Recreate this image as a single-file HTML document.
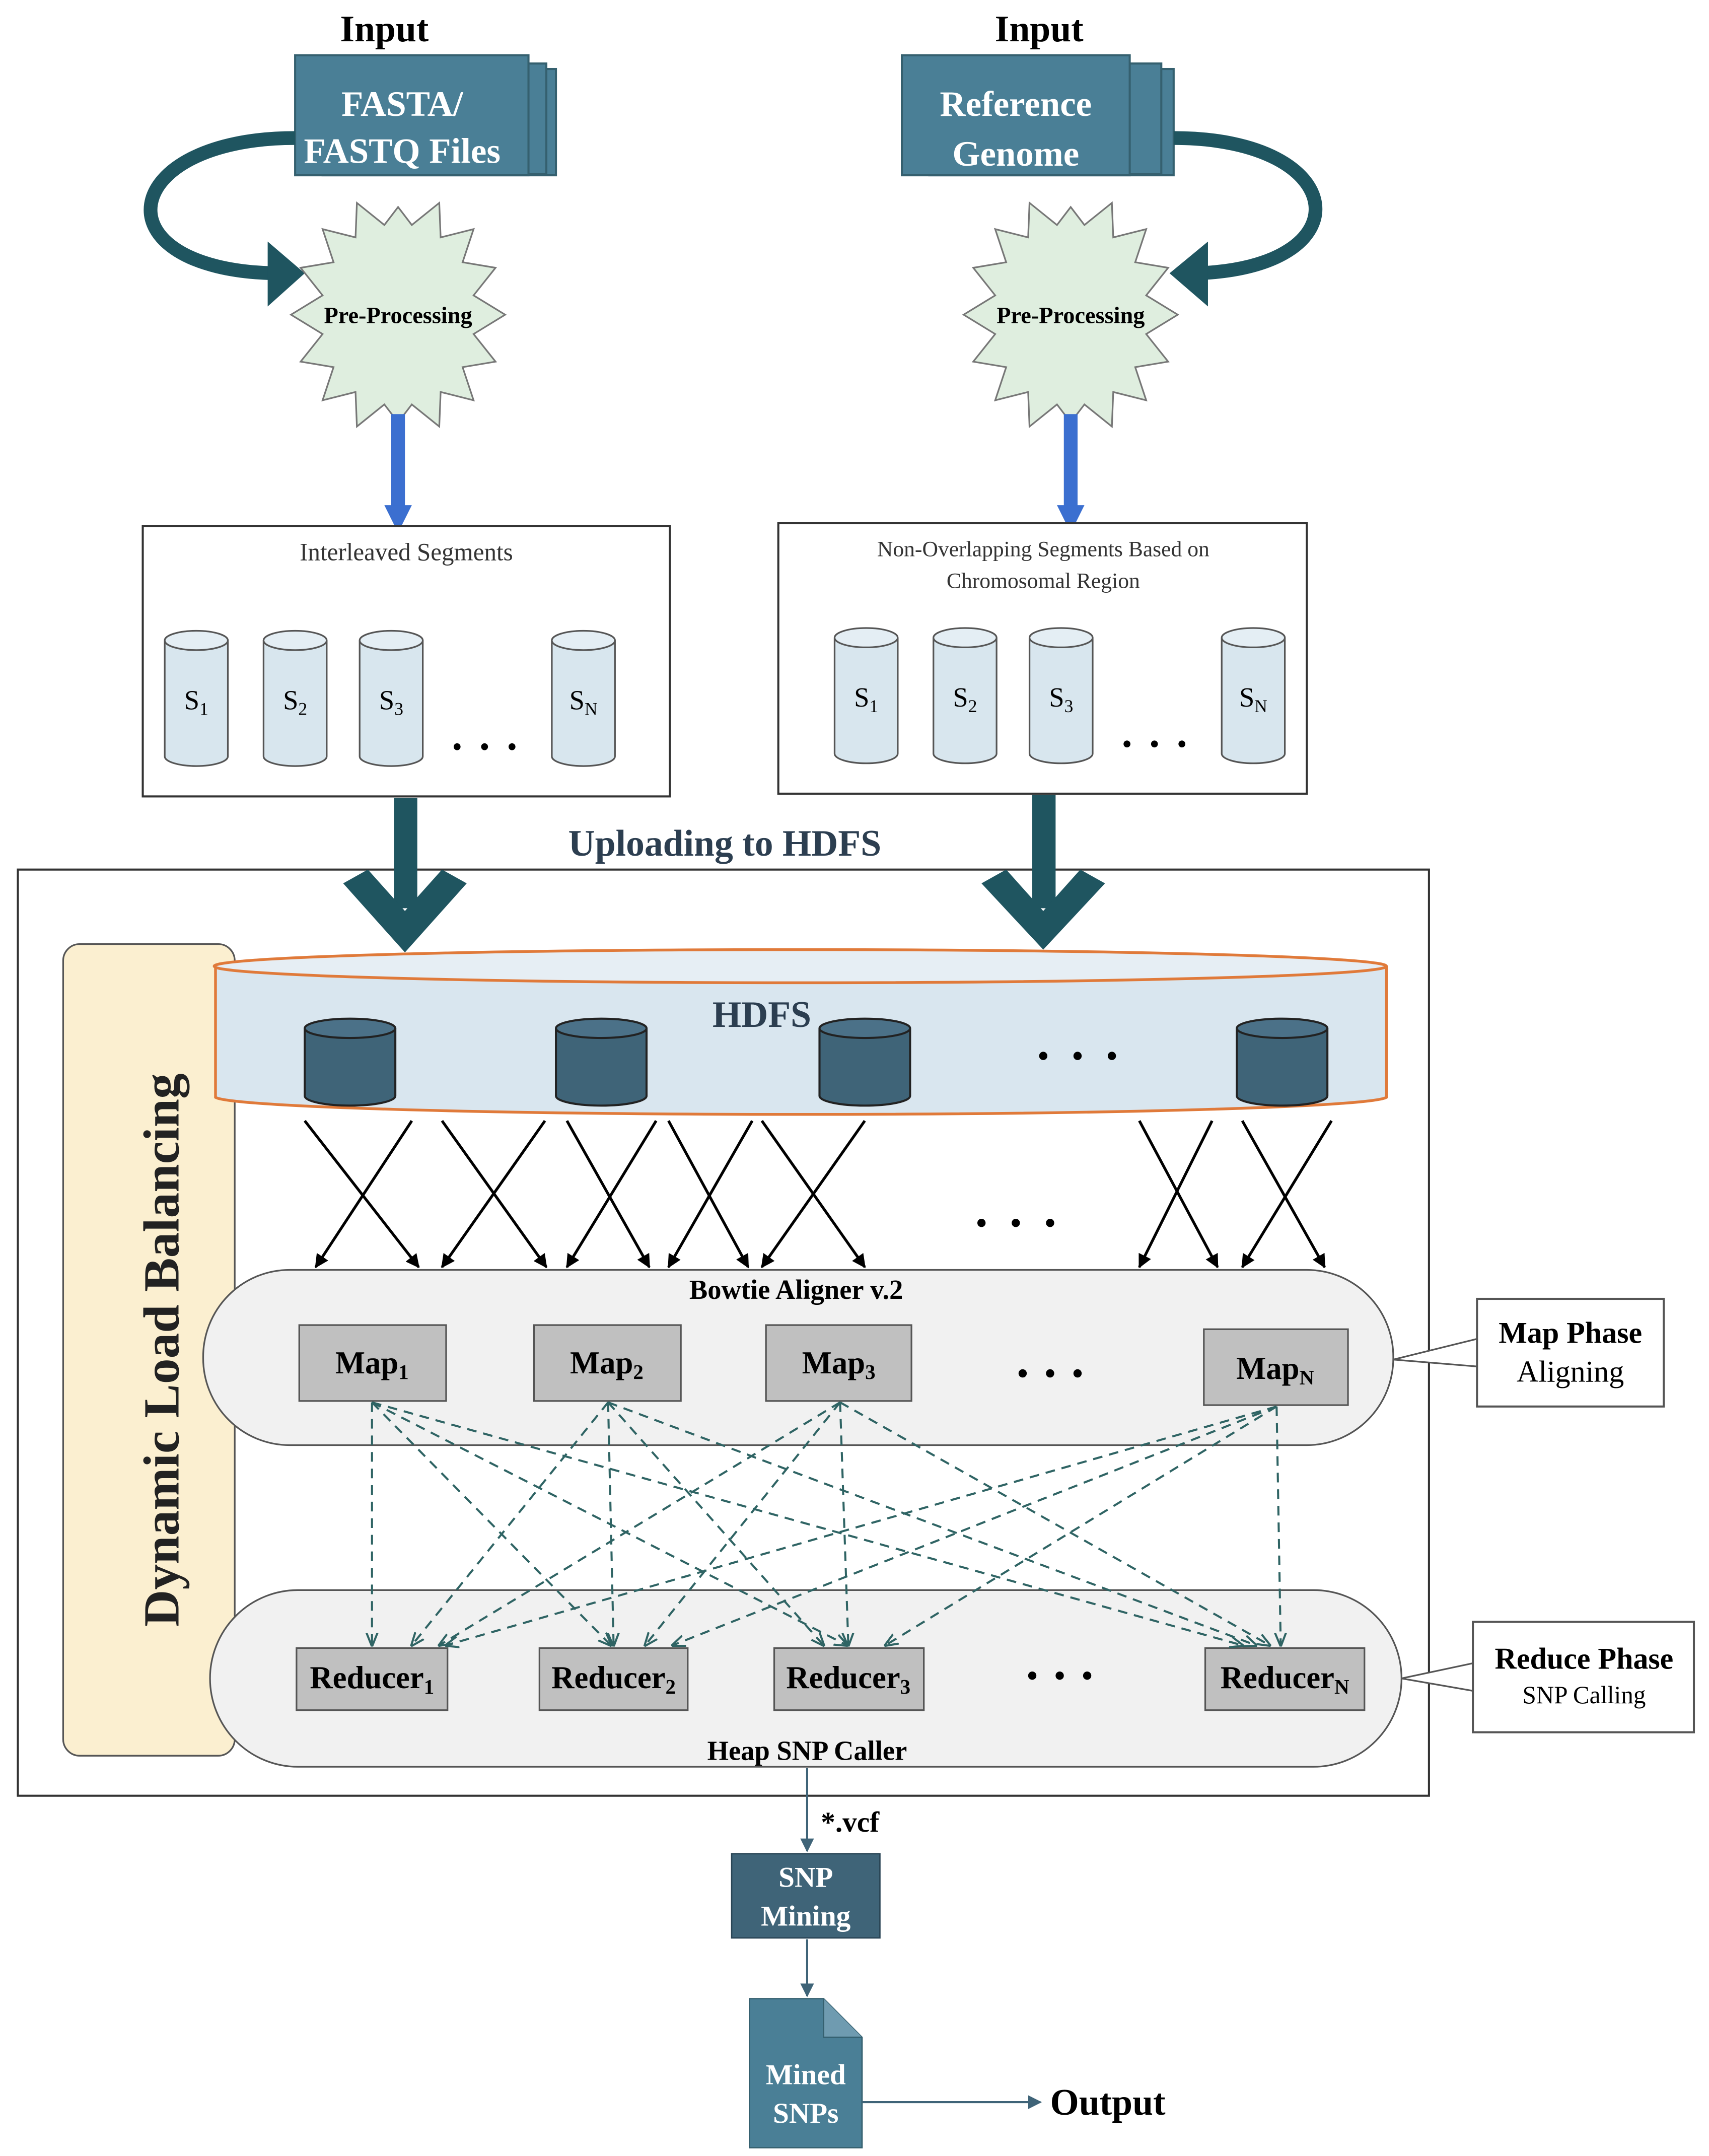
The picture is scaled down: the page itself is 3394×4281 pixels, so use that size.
<!DOCTYPE html>
<html><head><meta charset="utf-8"><style>html,body{margin:0;padding:0;background:#fff}svg{display:block}</style></head><body>
<svg width="3394" height="4281" viewBox="0 0 1245 1562" preserveAspectRatio="none" xmlns="http://www.w3.org/2000/svg" font-family="Liberation Serif, serif">
<defs>
<marker id="ab" markerWidth="10" markerHeight="10" refX="9" refY="5" orient="auto" markerUnits="userSpaceOnUse"><path d="M0,0 L10,5 L0,10 Z" fill="#000"/></marker>
<marker id="at" markerWidth="10" markerHeight="10" refX="9" refY="5" orient="auto" markerUnits="userSpaceOnUse"><path d="M0,1 L10,5 L0,9" fill="none" stroke="#2f6464" stroke-width="1.5"/></marker>
<marker id="as" markerWidth="10" markerHeight="10" refX="9" refY="5" orient="auto" markerUnits="userSpaceOnUse"><path d="M0,0 L10,5 L0,10 Z" fill="#3f6478"/></marker>
<marker id="ablue" markerWidth="20" markerHeight="20" refX="10" refY="10" orient="auto" markerUnits="userSpaceOnUse"><path d="M0,0 L20,10 L0,20 Z" fill="#3b6fd0"/></marker>
<g id="cyl"><path d="M0,7 L0,91 A23,7 0 0 0 46,91 L46,7" fill="#d8e6ee" stroke="#555" stroke-width="1.2"/><ellipse cx="23" cy="7" rx="23" ry="7" fill="#e4eef4" stroke="#555" stroke-width="1.2"/></g>
<g id="dc"><path d="M0,7 L0,56 A33,7 0 0 0 66,56 L66,7" fill="#3f6478" stroke="#222" stroke-width="1.5"/><ellipse cx="33" cy="7" rx="33" ry="7" fill="#4b7188" stroke="#222" stroke-width="1.5"/></g>
</defs>
<text x="280" y="30" font-size="27" font-weight="bold" text-anchor="middle">Input</text>
<text x="757" y="30" font-size="27" font-weight="bold" text-anchor="middle">Input</text>
<g stroke="#35606f" stroke-width="1.5">
<rect x="235" y="50" width="170" height="77" fill="#4a7f96"/>
<rect x="228" y="46" width="170" height="80" fill="#4a7f96"/>
<rect x="215" y="40" width="170" height="87" fill="#4a7f96"/>
<rect x="677" y="50" width="178" height="77" fill="#4a7f96"/>
<rect x="668" y="46" width="178" height="80" fill="#4a7f96"/>
<rect x="657" y="40" width="166" height="87" fill="#4a7f96"/>
</g>
<g fill="#fff" font-weight="bold" font-size="26" text-anchor="middle">
<text x="293" y="84">FASTA/</text><text x="293" y="118">FASTQ Files</text>
<text x="740" y="84">Reference</text><text x="740" y="120">Genome</text>
</g>
<path d="M215,100 C85,100 70,195 200,198" fill="none" stroke="#1f5560" stroke-width="10"/>
<path d="M195,175 L222,198 L195,222 Z" fill="#1f5560"/>
<path d="M855,100 C985,100 995,195 870,198" fill="none" stroke="#1f5560" stroke-width="10"/>
<path d="M880,175 L852,198 L880,222 Z" fill="#1f5560"/>
<g id="star"><polygon fill="#dfeedf" stroke="#777" stroke-width="1.2" points="368,228 345,242 361,262 337,266 345,290 321,284 320,309 300,293 290,306 280,293 260,309 259,284 235,290 243,266 219,262 235,242 212,228 235,214 219,194 243,190 235,166 259,172 260,147 280,163 290,150 300,163 320,147 321,172 345,166 337,190 361,194 345,214"/></g>
<use href="#star" transform="translate(490,0)"/>
<g font-size="17" font-weight="bold" text-anchor="middle"><text x="290" y="234">Pre-Processing</text><text x="780" y="234">Pre-Processing</text></g>
<line x1="290" y1="300" x2="290" y2="376" stroke="#3b6fd0" stroke-width="10" marker-end="url(#ablue)"/>
<line x1="780" y1="300" x2="780" y2="376" stroke="#3b6fd0" stroke-width="10" marker-end="url(#ablue)"/>
<rect x="104" y="381" width="384" height="196" fill="#fff" stroke="#333" stroke-width="1.5"/>
<rect x="567" y="379" width="385" height="196" fill="#fff" stroke="#333" stroke-width="1.5"/>
<text x="296" y="406" font-size="18" text-anchor="middle" fill="#333">Interleaved Segments</text>
<text x="760" y="403" font-size="16" text-anchor="middle" fill="#333">Non-Overlapping Segments Based on</text>
<text x="760" y="426" font-size="16" text-anchor="middle" fill="#333">Chromosomal Region</text>
<use href="#cyl" transform="translate(120,457)"/><use href="#cyl" transform="translate(192,457)"/><use href="#cyl" transform="translate(262,457)"/><use href="#cyl" transform="translate(402,457)"/>
<use href="#cyl" transform="translate(608,455)"/><use href="#cyl" transform="translate(680,455)"/><use href="#cyl" transform="translate(750,455)"/><use href="#cyl" transform="translate(890,455)"/>
<g font-size="20" text-anchor="middle">
<text x="143" y="514">S<tspan font-size="13" dy="4">1</tspan></text><text x="215" y="514">S<tspan font-size="13" dy="4">2</tspan></text><text x="285" y="514">S<tspan font-size="13" dy="4">3</tspan></text><text x="425" y="514">S<tspan font-size="13" dy="4">N</tspan></text>
<text x="631" y="512">S<tspan font-size="13" dy="4">1</tspan></text><text x="703" y="512">S<tspan font-size="13" dy="4">2</tspan></text><text x="773" y="512">S<tspan font-size="13" dy="4">3</tspan></text><text x="913" y="512">S<tspan font-size="13" dy="4">N</tspan></text>
</g>
<g fill="#000"><circle cx="333" cy="541" r="2.5"/><circle cx="353" cy="541" r="2.5"/><circle cx="373" cy="541" r="2.5"/>
<circle cx="821" cy="539" r="2.5"/><circle cx="841" cy="539" r="2.5"/><circle cx="861" cy="539" r="2.5"/></g>
<text x="528" y="620" font-size="27" font-weight="bold" text-anchor="middle" fill="#2c3e50">Uploading to HDFS</text>
<rect x="13" y="630" width="1028" height="671" fill="none" stroke="#333" stroke-width="1.5"/>
<rect x="46" y="684" width="125" height="588" rx="12" fill="#fbefd0" stroke="#555" stroke-width="1.2"/>
<text transform="translate(130,978) rotate(-90)" font-size="37" font-weight="bold" text-anchor="middle" fill="#222">Dynamic Load Balancing</text>
<path d="M157,700 L157,795 A427,13 0 0 0 1010,795 L1010,700" fill="#d9e6ef" stroke="#e07a3a" stroke-width="2"/>
<ellipse cx="583" cy="700" rx="427" ry="12" fill="#e6eef4" stroke="#e07a3a" stroke-width="2"/>
<text x="555" y="744" font-size="27" font-weight="bold" text-anchor="middle" fill="#2c3e50">HDFS</text>
<use href="#dc" transform="translate(222,738)"/><use href="#dc" transform="translate(405,738)"/><use href="#dc" transform="translate(597,738)"/><use href="#dc" transform="translate(901,738)"/>
<g fill="#000"><circle cx="760" cy="765" r="3"/><circle cx="785" cy="765" r="3"/><circle cx="810" cy="765" r="3"/>
<circle cx="715" cy="886" r="3"/><circle cx="740" cy="886" r="3"/><circle cx="765" cy="886" r="3"/></g>
<g fill="#1f5560">
<rect x="287" y="578" width="17" height="80"/><path d="M250,640 L295,690 L340,640 L322,630 L295,660 L268,630 Z"/>
<rect x="752" y="576" width="17" height="82"/><path d="M715,640 L760,688 L805,640 L787,630 L760,660 L733,630 Z"/>
</g>
<g stroke="#000" stroke-width="2" marker-end="url(#ab)">
<line x1="222" y1="812" x2="305" y2="918"/><line x1="300" y1="812" x2="230" y2="918"/>
<line x1="322" y1="812" x2="398" y2="918"/><line x1="397" y1="812" x2="322" y2="918"/>
<line x1="413" y1="812" x2="473" y2="918"/><line x1="478" y1="812" x2="413" y2="918"/>
<line x1="487" y1="812" x2="545" y2="918"/><line x1="548" y1="812" x2="487" y2="918"/>
<line x1="555" y1="812" x2="630" y2="918"/><line x1="630" y1="812" x2="555" y2="918"/>
<line x1="830" y1="812" x2="887" y2="918"/><line x1="883" y1="812" x2="830" y2="918"/>
<line x1="905" y1="812" x2="965" y2="918"/><line x1="970" y1="812" x2="905" y2="918"/>
</g>
<rect x="148" y="920" width="867" height="127" rx="63" fill="#f1f1f1" stroke="#555" stroke-width="1.2"/>
<text x="580" y="941" font-size="20" font-weight="bold" text-anchor="middle">Bowtie Aligner v.2</text>
<g fill="#c0c0c0" stroke="#555" stroke-width="1.2">
<rect x="218" y="960" width="107" height="55"/><rect x="389" y="960" width="107" height="55"/><rect x="558" y="960" width="106" height="55"/><rect x="877" y="963" width="105" height="55"/>
</g>
<g font-size="23" font-weight="bold" text-anchor="middle">
<text x="271" y="995">Map<tspan font-size="15" dy="4">1</tspan></text><text x="442" y="995">Map<tspan font-size="15" dy="4">2</tspan></text><text x="611" y="995">Map<tspan font-size="15" dy="4">3</tspan></text><text x="929" y="999">Map<tspan font-size="15" dy="4">N</tspan></text>
</g>
<rect x="153" y="1152" width="868" height="128" rx="64" fill="#f1f1f1" stroke="#555" stroke-width="1.2"/>
<text x="588" y="1275" font-size="20" font-weight="bold" text-anchor="middle">Heap SNP Caller</text>
<g fill="#c0c0c0" stroke="#555" stroke-width="1.2">
<rect x="216" y="1194" width="110" height="45"/><rect x="393" y="1194" width="108" height="45"/><rect x="564" y="1194" width="109" height="45"/><rect x="878" y="1194" width="116" height="45"/>
</g>
<g font-size="23" font-weight="bold" text-anchor="middle">
<text x="271" y="1223">Reducer<tspan font-size="15" dy="4">1</tspan></text><text x="447" y="1223">Reducer<tspan font-size="15" dy="4">2</tspan></text><text x="618" y="1223">Reducer<tspan font-size="15" dy="4">3</tspan></text><text x="936" y="1223">Reducer<tspan font-size="15" dy="4">N</tspan></text>
</g>
<g fill="#000"><circle cx="745" cy="995" r="3"/><circle cx="765" cy="995" r="3"/><circle cx="785" cy="995" r="3"/>
<circle cx="752" cy="1214" r="3"/><circle cx="772" cy="1214" r="3"/><circle cx="792" cy="1214" r="3"/></g>
<g stroke="#2f6464" stroke-width="1.5" stroke-dasharray="7,5" fill="none" marker-end="url(#at)">
<line x1="271" y1="1016" x2="271" y2="1192"/><line x1="271" y1="1016" x2="445" y2="1192"/><line x1="271" y1="1016" x2="617" y2="1192"/><line x1="271" y1="1016" x2="905" y2="1192"/>
<line x1="443" y1="1016" x2="300" y2="1192"/><line x1="443" y1="1016" x2="447" y2="1192"/><line x1="443" y1="1016" x2="600" y2="1192"/><line x1="443" y1="1016" x2="915" y2="1192"/>
<line x1="612" y1="1016" x2="320" y2="1192"/><line x1="612" y1="1016" x2="470" y2="1192"/><line x1="612" y1="1016" x2="618" y2="1192"/><line x1="612" y1="1016" x2="925" y2="1192"/>
<line x1="930" y1="1019" x2="325" y2="1192"/><line x1="930" y1="1019" x2="490" y2="1192"/><line x1="930" y1="1019" x2="645" y2="1192"/><line x1="930" y1="1019" x2="933" y2="1192"/>
</g>
<path d="M1015,985 L1076,970 L1076,990 Z" fill="#fff" stroke="#555" stroke-width="1.2"/>
<rect x="1076" y="941" width="136" height="78" fill="#fff" stroke="#555" stroke-width="1.5"/>
<text x="1144" y="973" font-size="22" font-weight="bold" text-anchor="middle">Map Phase</text>
<text x="1144" y="1001" font-size="22" text-anchor="middle">Aligning</text>
<path d="M1021,1216 L1073,1205 L1073,1225 Z" fill="#fff" stroke="#555" stroke-width="1.2"/>
<rect x="1073" y="1175" width="161" height="80" fill="#fff" stroke="#555" stroke-width="1.5"/>
<text x="1154" y="1209" font-size="22" font-weight="bold" text-anchor="middle">Reduce Phase</text>
<text x="1154" y="1234" font-size="18" text-anchor="middle">SNP Calling</text>
<line x1="588" y1="1281" x2="588" y2="1341" stroke="#3f6478" stroke-width="1.5" marker-end="url(#as)"/>
<text x="598" y="1327" font-size="21" font-weight="bold">*.vcf</text>
<rect x="533" y="1343" width="108" height="61" fill="#3f6478" stroke="#2a4555"/>
<text x="587" y="1367" font-size="21" font-weight="bold" fill="#fff" text-anchor="middle">SNP</text>
<text x="587" y="1395" font-size="21" font-weight="bold" fill="#fff" text-anchor="middle">Mining</text>
<line x1="588" y1="1405" x2="588" y2="1446" stroke="#3f6478" stroke-width="1.5" marker-end="url(#as)"/>
<path d="M546,1448 L600,1448 L628,1476 L628,1556 L546,1556 Z" fill="#4a7f96" stroke="#35606f"/>
<path d="M600,1448 L600,1476 L628,1476" fill="#6f9bb0" stroke="#35606f"/>
<text x="587" y="1510" font-size="21" font-weight="bold" fill="#fff" text-anchor="middle">Mined</text>
<text x="587" y="1538" font-size="21" font-weight="bold" fill="#fff" text-anchor="middle">SNPs</text>
<line x1="628" y1="1523" x2="758" y2="1523" stroke="#3f6478" stroke-width="1.5" marker-end="url(#as)"/>
<text x="765" y="1532" font-size="27" font-weight="bold">Output</text>
</svg>
</body></html>
